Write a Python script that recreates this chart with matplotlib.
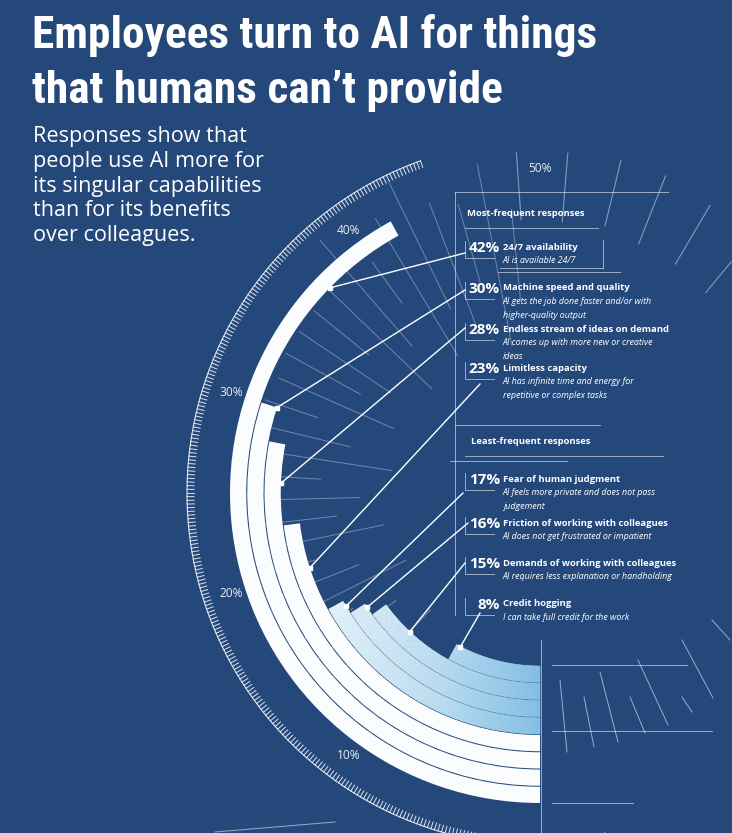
import numpy as np
import matplotlib
matplotlib.use('Agg')
import matplotlib.pyplot as plt
from matplotlib.patches import Wedge
from matplotlib.colors import LinearSegmentedColormap
from matplotlib import font_manager as fm

# ---- data ----
shares = [42, 30, 28, 23, 17, 16, 15, 8]
pct_labels = ['42%', '30%', '28%', '23%', '17%', '16%', '15%', '8%']
reasons = ['24/7 availability', 'Machine speed and quality',
           'Endless stream of ideas on demand', 'Limitless capacity',
           'Fear of human judgment', 'Friction of working with colleagues',
           'Demands of working with colleagues', 'Credit hogging']
details = [['AI is available 24/7'],
           ['AI gets the job done faster and/or with', 'higher-quality output'],
           ['AI comes up with more new or creative', 'ideas'],
           ['AI has infinite time and energy for', 'repetitive or complex tasks'],
           ['AI feels more private and does not pass', 'judgement'],
           ['AI does not get frustrated or impatient'],
           ['AI requires less explanation or handholding'],
           ['I can take full credit for the work']]
scale_values = [10, 20, 30, 40, 50]

title_lines = ['Employees turn to AI for things', 'that humans can\u2019t provide']
subtitle = ['Responses show that', 'people use AI more for',
            'its singular capabilities', 'than for its benefits',
            'over colleagues.']

# ---- layout ----
BG = '#25487b'
W, H = 732, 833
CX, CY = 540, 493          # centre of the rings (pixels)
R0, BAND = 172, 17.25      # inner radius, ring thickness
n = len(shares)

def theta(p):
    return 90 + 3.6 * p     # 0% points down, grows clockwise

def pos(p, r):
    a = np.radians(theta(p))
    return CX + r * np.cos(a), CY + r * np.sin(a)

# pick the narrowest bold face that is installed for the headline
installed = {f.name for f in fm.fontManager.ttflist}
head_font = 'DejaVu Sans'
for cand in ['Liberation Sans Narrow', 'DejaVu Sans Condensed', 'Roboto Condensed',
             'Noto Sans Condensed', 'Open Sans Condensed', 'Roboto', 'Lato']:
    if cand in installed:
        head_font = cand
        break

fig = plt.figure(figsize=(7.32, 8.33), dpi=100, facecolor=BG)
ax = fig.add_axes([0, 0, 1, 1])
ax.set_xlim(0, W)
ax.set_ylim(H, 0)
ax.set_facecolor(BG)
ax.axis('off')

# faint radial guide lines behind the rings
deco_p = np.arange(12, 49, 1.4)
r_in_cycle = [160, 205, 180, 220, 150, 195, 235]
r_out_cycle = [300, 335, 285, 320, 345, 310]
for k, p in enumerate(deco_p):
    ro = r_out_cycle[k % len(r_out_cycle)]
    if p < 36:
        ro = min(ro, 290)
    x0, y0 = pos(p, r_in_cycle[k % len(r_in_cycle)])
    x1, y1 = pos(p, ro)
    ax.plot([x0, x1], [y0, y1], color='white', lw=0.7, alpha=0.35, zorder=1)
for p, ri, ro in [(48.9, 274, 341), (51.3, 272, 341), (53.8, 275, 342),
                  (56.0, 268, 341), (58.5, 266, 334), (61.0, 260, 300)]:
    x0, y0 = pos(p, ri)
    x1, y1 = pos(p, ro)
    ax.plot([x0, x1], [y0, y1], color='white', lw=0.8, alpha=0.45, zorder=1)

# rings
cmap = LinearSegmentedColormap.from_list('ice', ['#e6f4fb', '#bfe0f2', '#86c2e6'])
for i, p in enumerate(shares):
    r_out = R0 + (n - i) * BAND
    w = BAND - 1.0
    if i < 4:
        ax.add_patch(Wedge((CX, CY), r_out, theta(0), theta(p), width=w,
                           facecolor='#fbfcfd', edgecolor='none', zorder=3))
    else:
        steps = int(p * 8)
        edges = np.linspace(0, p, steps + 1)
        for a0, a1 in zip(edges[:-1], edges[1:]):
            xm, _ = pos((a0 + a1) / 2, r_out - w / 2)
            t = np.clip((xm - 330) / (540 - 330), 0, 1)
            c = cmap(t)
            ax.add_patch(Wedge((CX, CY), r_out, theta(a0), theta(a1), width=w,
                               facecolor=c, edgecolor=c, lw=0.4, zorder=3))

# outer scale
ticks = np.arange(-3, 44.6, 1 / 6)
for p in ticks:
    x0, y0 = pos(p, 346)
    x1, y1 = pos(p, 353)
    ax.plot([x0, x1], [y0, y1], color='white', lw=0.7, alpha=0.85, zorder=2)
arc = np.linspace(-3, 44.5, 300)
ax.plot(*pos(arc, 353), color='white', lw=0.8, alpha=0.85, zorder=2)
for v in scale_values:
    x, y = pos(v, 325)
    ax.text(x, y, f'{v}%', color='white', fontsize=8.6, ha='center', va='center',
            family=['Open Sans', 'DejaVu Sans'], alpha=0.9, zorder=4)

# panel frame lines
frame = dict(color='white', lw=0.7, alpha=0.55, zorder=2)
ax.plot([455, 668], [192, 192], **frame)
ax.plot([455, 455], [192, 615], **frame)
ax.plot([465, 598], [228, 228], **frame)
ax.plot([455, 600], [425, 425], **frame)
ax.plot([465, 663], [456, 456], **frame)
ax.plot([450, 567], [461, 461], **frame)
ax.plot([603, 603], [240, 268], **frame)
ax.plot([500, 603], [268, 268], **frame)
ax.plot([498, 620], [272, 272], **frame)
ax.plot([541, 541], [640, 833], **frame)
ax.plot([552, 687], [665, 665], **frame)
ax.plot([552, 712], [731, 731], **frame)
ax.plot([552, 633], [803, 803], **frame)
ax.plot([215, 335], [832, 822], **frame)
for (xa, ya), (xb, yb) in [((560, 680), (567, 752)), ((584, 697), (594, 747)),
                           ((600, 672), (618, 742)), ((630, 697), (645, 733)),
                           ((638, 660), (668, 725)), ((682, 640), (713, 698)),
                           ((682, 697), (692, 712)), ((712, 620), (730, 640))]:
    ax.plot([xa, xb], [ya, yb], **frame)

# labels and leader lines
txt_font = ['Open Sans', 'DejaVu Sans']
ax.text(467, 213, 'Most-frequent responses', color='white', fontsize=6.8,
        fontweight='bold', family=txt_font, va='center', zorder=5)
ax.text(471, 441, 'Least-frequent responses', color='white', fontsize=6.8,
        fontweight='bold', family=txt_font, va='center', zorder=5)

row_y = [247, 288, 329, 368, 479, 523, 563, 604]
leader_p = [37.3, 30.0, 25.6, 20.0, 16.6, 15.7, 12.0, 7.6]
leader_end = [(465, 253), (465, 290), (465, 328), (480, 384),
              (463, 493), (468, 523), (465, 563), (480, 613)]
for i in range(n):
    y = row_y[i]
    ax.text(500, y + 1, pct_labels[i], color='white', fontsize=11, fontweight='bold',
            family=txt_font, ha='right', va='center', zorder=5)
    ax.text(503, y, reasons[i], color='white', fontsize=6.8, fontweight='bold',
            family=txt_font, ha='left', va='center', zorder=5)
    for j, line in enumerate(details[i]):
        ax.text(503, y + 13.5 * (j + 1), line, color='white', fontsize=6.4,
                style='italic', family=txt_font, ha='left', va='center', zorder=5)
    r_in = R0 + (n - i - 1) * BAND
    xd, yd = pos(leader_p[i], r_in + 1)
    xe, ye = leader_end[i]
    ax.plot([xd, xe], [yd, ye], color='white', lw=1.0, zorder=6)
    ax.plot([xd], [yd], marker='s', ms=2.5, color='white', zorder=7)
    # small bracket under the percentage
    ax.plot([465, 465], [y - 6, y + 10], **frame)
    ax.plot([465, 494], [y + 11, y + 11], **frame)

# headline: fit the first line to its width in the original
renderer = fig.canvas.get_renderer()
heads = []
for k, line in enumerate(title_lines):
    heads.append(ax.text(32, 48 + 55 * k, line, color='white', fontsize=33,
                         fontweight='bold', family=[head_font, 'DejaVu Sans'],
                         fontstretch='condensed', va='baseline', zorder=5))
w0 = heads[0].get_window_extent(renderer=renderer).width
size = min(33 * 565 / w0, 40)
for t in heads:
    t.set_fontsize(size)

for k, line in enumerate(subtitle):
    ax.text(33, 142 + 24.8 * k, line, color='white', fontsize=15.6,
            family=txt_font, va='baseline', zorder=5)

fig.savefig('out.png', dpi=100, facecolor=BG)
